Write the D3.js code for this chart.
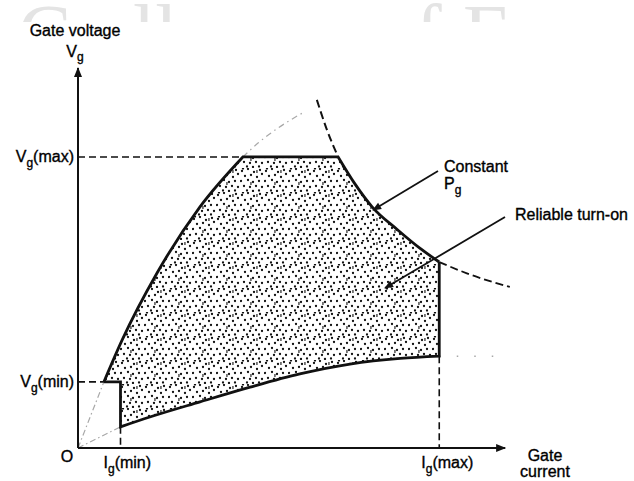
<!DOCTYPE html>
<html><head><meta charset="utf-8">
<script src="https://cdn.jsdelivr.net/npm/d3@7"></script>
<style>
html,body{margin:0;padding:0;background:#fff;}
text.lbl{font-family:"Liberation Sans",Arial,sans-serif;fill:#000;stroke:#000;stroke-width:0.35px;}
</style></head>
<body>
<svg id="c" width="634" height="481"></svg>
<script>
// ---- data (gate current %, gate voltage %) ----
const igMin = 10, igMax = 85, vgMin = 17.5, vgMax = 77;
const upperCurve = [[6.1,17.5],[10.4,28.6],[18.6,46.3],[28.7,63.8],[38.8,77]];
const upperExt   = [[38.8,77],[42.5,80.8],[47,84.6],[53.4,89]];
const pgTopDash  = [[56.2,92.1],[58.6,84.1],[61.2,77]];
const pgSolid    = [[61.2,77],[65.2,69.8],[69.2,63.8],[75.1,57.8],[80.5,52.8],[85,49.2]];
const pgTailDash = [[85,49.2],[91.5,46.2],[101.6,42.6]];
const lowerCurve = [[10,5.6],[16.9,8.2],[28.7,12.2],[40.5,16.1],[52.2,19.6],[64,22.2],[75.8,23.7],[85,24.3]];
const lowerExt   = [[85,24.3],[100,24.3]];
const loadLines  = [[[0,0],[6.1,17.5]],[[0,0],[10,5.6]]];
const labels = {yTitle:"Gate voltage", xTitle1:"Gate", xTitle2:"current", origin:"O",
  constant:"Constant", reliable:"Reliable turn-on"};

const svg = d3.select("#c");
const x = d3.scaleLinear().domain([0,100]).range([78,503]);
const y = d3.scaleLinear().domain([0,100]).range([448,70]);

// watermark (faint, cut at top)
svg.append("clipPath").attr("id","wm").append("rect").attr("x",0).attr("y",0).attr("width",634).attr("height",22);
const wm = svg.append("g").attr("clip-path","url(#wm)");
[["C",18],["ll",133],["f",415],["E",463]].forEach(([t,px])=>{
  wm.append("text").attr("x",px).attr("y",60).text(t).style("fill","#e4e4e4")
    .style("font-family","Liberation Serif, serif").style("font-size","80px");
});

// stipple pattern
const defs = svg.append("defs");
const pat = defs.append("pattern").attr("id","stip").attr("patternUnits","userSpaceOnUse").attr("width",24).attr("height",24);
const dots = [[2,3],[8,1],[14,4],[20,2],[5,8],[11,7],[17,9],[22,6],[1,13],[8,12],[13,14],[19,13],[4,18],[10,19],[16,18],[22,19],[7,22.5],[13,23],[19,22.5],[3,0.5]];
dots.forEach(d=>pat.append("circle").attr("cx",d[0]).attr("cy",d[1]).attr("r",1.15).attr("fill","#111"));
pat.append("rect").attr("x",16.4).attr("y",2).attr("width",1.1).attr("height",3).attr("fill","#111");
pat.append("rect").attr("x",10.4).attr("y",14).attr("width",1.1).attr("height",3).attr("fill","#111");

// arrow markers
defs.append("marker").attr("id","ah").attr("viewBox","0 0 10 10").attr("refX",9).attr("refY",5)
  .attr("markerWidth",10).attr("markerHeight",9).attr("markerUnits","userSpaceOnUse").attr("orient","auto")
  .append("path").attr("d","M0,1 L10,5 L0,9 Z").attr("fill","#111");
defs.append("marker").attr("id","axh").attr("viewBox","0 0 10 10").attr("refX",9).attr("refY",5)
  .attr("markerWidth",12).attr("markerHeight",10).attr("markerUnits","userSpaceOnUse").attr("orient","auto")
  .append("path").attr("d","M0,1 L10,5 L0,9 Z").attr("fill","#111");

const curve = d3.line().x(d=>x(d[0])).y(d=>y(d[1])).curve(d3.curveMonotoneX);
const lin = d3.line().x(d=>x(d[0])).y(d=>y(d[1]));
const join = (...parts)=>parts.map((p,i)=>i? p.replace(/^M/,"L"):p).join("");

// boundary pieces (every curve runs with increasing x)
const lowerPath = join(lin([[6.1,vgMin],[igMin,vgMin],[igMin,5.6]]), curve(lowerCurve), lin([[igMax,24.3],[igMax,49.2]]));
const upperPath = join(curve(upperCurve), lin([[38.8,vgMax],[61.2,vgMax]]), curve(pgSolid));

// stippled region = below upper boundary AND above lower boundary
svg.append("clipPath").attr("id","upperClip").append("path").attr("d",
  join(upperPath, lin([[igMax,49.2],[igMax,-5],[6.1,-5],[6.1,vgMin]])) + "Z");
svg.append("clipPath").attr("id","lowerClip").append("path").attr("d",
  join(lowerPath, lin([[igMax,49.2],[igMax,105],[6.1,105]])) + "Z");
svg.append("g").attr("clip-path","url(#upperClip)")
  .append("path").attr("clip-path","url(#lowerClip)")
  .attr("d", lin([[6.1,0],[igMax,0],[igMax,100],[6.1,100]])+"Z")
  .attr("fill","url(#stip)");

// gray construction lines
const gray = svg.append("g").attr("fill","none").attr("stroke","#a8a8a8").attr("stroke-width",1.2);
gray.append("path").attr("d",curve(upperExt)).attr("stroke-dasharray","6,4,1.5,4");
loadLines.forEach(l=>gray.append("path").attr("d",lin(l)).attr("stroke-dasharray","6,3,1.5,3"));
gray.append("path").attr("d",lin(lowerExt)).attr("stroke-dasharray","1.5,16").attr("stroke-width",1.5);

// dashed references
const dash = svg.append("g").attr("fill","none").attr("stroke","#111").attr("stroke-width",1.6).attr("stroke-dasharray","7,4");
dash.append("path").attr("d",lin([[0,vgMax],[38.8,vgMax]]));
dash.append("path").attr("d",lin([[0,vgMin],[6.1,vgMin]]));
dash.append("path").attr("d",lin([[igMin,5.6],[igMin,0]]));
dash.append("path").attr("d",lin([[igMax,24.3],[igMax,0]]));
dash.append("path").attr("d",curve(pgTopDash)).attr("stroke-width",2).attr("stroke-dasharray","8,4");
dash.append("path").attr("d",curve(pgTailDash)).attr("stroke-width",1.8).attr("stroke-dasharray","8,4");

// boundary
const bd = svg.append("g").attr("fill","none").attr("stroke","#111").attr("stroke-width",2.8).attr("stroke-linejoin","miter");
bd.append("path").attr("d",lowerPath);
bd.append("path").attr("d",upperPath);

// axes
svg.append("path").attr("d",lin([[0,0],[0,100.5]])).attr("stroke","#111").attr("stroke-width",2).attr("marker-end","url(#axh)");
svg.append("path").attr("d",lin([[0,0],[100.5,0]])).attr("stroke","#111").attr("stroke-width",2).attr("marker-end","url(#axh)");

// annotation arrows
svg.append("line").attr("x1",438).attr("y1",171).attr("x2",373).attr("y2",210).attr("stroke","#111").attr("stroke-width",1.8).attr("marker-end","url(#ah)");
svg.append("line").attr("x1",505).attr("y1",217).attr("x2",385).attr("y2",288).attr("stroke","#111").attr("stroke-width",1.8).attr("marker-end","url(#ah)");

// text
const fs = 16, sub = 12;
const T = (tx,ty,anchor)=>svg.append("text").attr("class","lbl").attr("x",tx).attr("y",ty).attr("text-anchor",anchor||"start").style("font-size",fs+"px");
T(75,36,"middle").text(labels.yTitle);
const vg = T(75,57,"middle"); vg.append("tspan").text("V"); vg.append("tspan").attr("dy",4).style("font-size",sub+"px").text("g");
function subLabel(tx,ty,anchor,main,s,rest){
  const t = T(tx,ty,anchor);
  t.append("tspan").text(main);
  t.append("tspan").attr("dy",5).style("font-size",sub+"px").text(s);
  t.append("tspan").attr("dy",-5).text(rest);
  return t;
}
subLabel(74,y(vgMax)+5,"end","V","g","(max)");
subLabel(74,y(vgMin)+5,"end","V","g","(min)");
subLabel(x(igMin)-17,468,"start","I","g","(min)");
subLabel(x(igMax)-18,468,"start","I","g","(max)");
T(67,462,"middle").text(labels.origin);
T(545,461,"middle").text(labels.xTitle1);
T(545,477,"middle").text(labels.xTitle2);
T(444,172,"start").text(labels.constant);
const pg = T(444,189,"start"); pg.append("tspan").text("P"); pg.append("tspan").attr("dy",5).style("font-size",sub+"px").text("g");
T(515,220,"start").text(labels.reliable);
</script>
</body></html>
